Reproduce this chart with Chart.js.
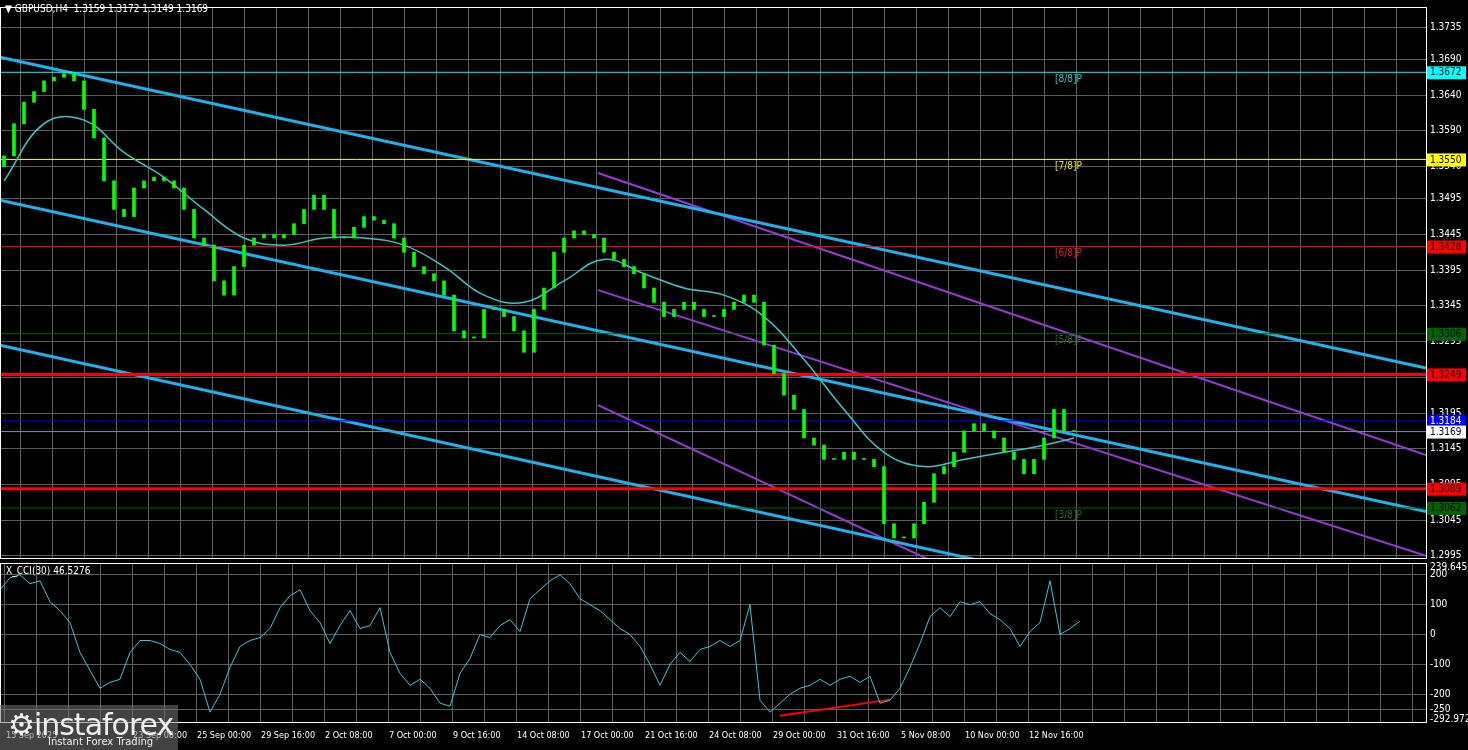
<!DOCTYPE html>
<html><head><meta charset="utf-8">
<script src="https://cdn.jsdelivr.net/npm/chart.js@4"></script>
<style>
body{margin:0;background:#000;width:1468px;height:750px;overflow:hidden;font-family:"DejaVu Sans",sans-serif}
#c1{position:absolute;left:0;top:0}
#c2{position:absolute;left:0;top:561px}
#wm{position:absolute;left:0;top:705px;width:178px;height:45px;background:rgba(120,120,120,0.55);color:#ddd}
</style></head><body>
<canvas id="c1" width="1468" height="561"></canvas>
<canvas id="c2" width="1468" height="189"></canvas>
<div id="wm"><div style="position:absolute;left:8px;top:2px;font-size:30px;color:#eee;letter-spacing:-1px">⚙instaforex</div><div style="position:absolute;left:48px;top:31px;font-size:10px;color:#eee">Instant Forex Trading</div></div>
<script>
const closes=[1.3555,1.360,1.363,1.3645,1.366,1.3665,1.367,1.366,1.362,1.358,1.352,1.348,1.347,1.351,1.352,1.3525,1.352,1.351,1.348,1.344,1.343,1.338,1.336,1.340,1.343,1.344,1.3445,1.344,1.3445,1.346,1.348,1.350,1.348,1.344,1.344,1.3455,1.347,1.3465,1.346,1.344,1.342,1.340,1.339,1.338,1.336,1.331,1.330,1.330,1.334,1.334,1.333,1.331,1.328,1.334,1.337,1.342,1.344,1.345,1.3445,1.344,1.342,1.341,1.340,1.339,1.337,1.335,1.333,1.334,1.335,1.334,1.333,1.333,1.334,1.335,1.336,1.335,1.329,1.325,1.322,1.320,1.316,1.315,1.313,1.313,1.314,1.313,1.313,1.312,1.304,1.302,1.302,1.304,1.307,1.311,1.312,1.314,1.317,1.318,1.317,1.316,1.314,1.313,1.311,1.313,1.316,1.320,1.317,1.3169];
const maIdx=[0,4,8,12,16,20,24,28,32,36,40,44,48,52,56,60,64,68,72,76,80,84,88,92,96,100,104,107];
const maVals=[1.352,1.360,1.3605,1.356,1.3525,1.348,1.344,1.343,1.344,1.344,1.343,1.340,1.336,1.335,1.338,1.341,1.339,1.337,1.336,1.333,1.327,1.320,1.314,1.312,1.313,1.314,1.315,1.316];
const cci=[150,190,200,170,180,110,80,40,-60,-120,-180,-160,-150,-60,-20,-20,-30,-50,-60,-100,-150,-260,-200,-110,-40,-20,-10,20,90,130,150,80,40,-30,30,80,20,30,90,-60,-130,-170,-150,-180,-230,-240,-130,-80,0,-10,30,50,10,120,150,180,200,170,120,100,80,50,20,0,-40,-100,-170,-100,-60,-90,-50,-40,-20,-40,-20,100,-220,-260,-230,-200,-180,-170,-150,-170,-150,-140,-160,-140,-230,-220,-180,-110,-30,60,90,60,110,100,110,70,50,20,-40,10,40,180,0,20,45];
const priceTicks=[1.3735,1.3690,1.3640,1.3590,1.3540,1.3495,1.3445,1.3395,1.3345,1.3295,1.3245,1.3195,1.3145,1.3095,1.3045,1.2995];
const cciTicks=[200,100,0,-100,-200,-250];
const dateLabels=["23 Sep 08:00","25 Sep 00:00","29 Sep 16:00","2 Oct 08:00","7 Oct 00:00","9 Oct 16:00","14 Oct 08:00","17 Oct 00:00","21 Oct 16:00","24 Oct 08:00","29 Oct 00:00","31 Oct 16:00","5 Nov 08:00","10 Nov 00:00","12 Nov 16:00"];
const levels=[{v:1.3672,c:'#00ffff',t:'#000',w:1},{v:1.3550,c:'#ffff00',t:'#000',w:1},{v:1.3428,c:'#ff0000',t:'#000',w:1},{v:1.3306,c:'#006400',t:'#000',w:1},{v:1.3249,c:'#ff0000',t:'#000',w:3},{v:1.3184,c:'#0000ff',t:'#fff',w:1},{v:1.3169,c:'#ffffff',t:'#000',w:1,lc:'#8a8a8a'},{v:1.3089,c:'#ff0000',t:'#000',w:3},{v:1.3062,c:'#006400',t:'#000',w:1}];
const murray=[{t:'[8/8]P',v:1.3672,c:'#40c0c0'},{t:'[7/8]P',v:1.3550,c:'#e0e020'},{t:'[6/8]P',v:1.3428,c:'#e02020'},{t:'[5/8]P',v:1.3306,c:'#207020'},{t:'[3/8]P',v:1.3062,c:'#207020'}];
const chanLines=[[[0,1.3693],[1426,1.3258],'#19b4ef',3],[[0,1.3493],[1426,1.3057],'#19b4ef',3],[[0,1.3290],[975,1.2990],'#19b4ef',3],
 [[598,1.3531],[1426,1.3136],'#9a36d8',2],[[598,1.3367],[1426,1.2995],'#9a36d8',2],[[598,1.3206],[930,1.2989],'#9a36d8',2]];
const XW=1426, gridX=[];for(let x=1412;x>=0;x-=32)gridX.push(x);
const gridOpt={color:'#5c5c5c',lineWidth:1,borderDash:[3,3],drawTicks:false};
const font='"DejaVu Sans Condensed","DejaVu Sans"';
const yFit=a=>{a.width=42;a.paddingTop=0;a.paddingBottom=0};
const xFit=a=>{a.height=0;a.paddingLeft=0;a.paddingRight=0};
const ds=[];
ds.push({type:'bar',data:closes.map((c,i)=>({x:i*10+4,y:[i?closes[i-1]:1.3540,c]})),backgroundColor:'#00ff00',borderColor:'#00ff00',barThickness:3,minBarLength:1});
ds.push({type:'line',data:maIdx.map((k,j)=>({x:k*10+4,y:maVals[j]})),borderColor:'#30c8c8',borderWidth:1.5,pointRadius:0,tension:0.4});
levels.forEach(l=>ds.push({type:'line',data:[{x:0,y:l.v},{x:XW,y:l.v}],borderColor:l.lc||l.c,borderWidth:l.w,pointRadius:0}));
chanLines.forEach(l=>ds.push({type:'line',data:[{x:l[0][0],y:l[0][1]},{x:l[1][0],y:l[1][1]}],borderColor:l[2],borderWidth:l[3],pointRadius:0}));
const mainPlug={id:'m',afterDraw(ch){const c=ch.ctx,y=ch.scales.y,a=ch.chartArea;c.save();
 c.strokeStyle='#fff';c.lineWidth=1;c.strokeRect(a.left+0.5,a.top-0.5,a.right-a.left,a.bottom-a.top+1);
 c.font='10px '+font;c.textBaseline='middle';
 murray.forEach(m=>{c.fillStyle=m.c;c.fillText(m.t,1055,y.getPixelForValue(m.v)+7)});
 levels.forEach(l=>{const p=y.getPixelForValue(l.v);c.fillStyle=l.c;c.fillRect(1427,p-6,39,13);c.fillStyle=l.t;c.fillText(l.v.toFixed(4),1430,p+0.5)});
 c.fillStyle='#fff';c.fillText('▼ GBPUSD,H4  1.3159 1.3172 1.3149 1.3169',5,9);c.restore();}};
new Chart(document.getElementById('c1'),{data:{datasets:ds},options:{responsive:false,animation:false,layout:{padding:{top:8,bottom:3,left:0}},
 plugins:{legend:{display:false},tooltip:{enabled:false}},
 scales:{x:{type:'linear',min:0,max:XW,offset:false,grid:gridOpt,border:{display:false},ticks:{display:false},afterFit:xFit,afterBuildTicks:a=>{a.ticks=gridX.map(v=>({value:v}))}},
 y:{position:'right',min:1.2992,max:1.3762,grid:gridOpt,border:{display:false},afterFit:yFit,afterBuildTicks:a=>{a.ticks=priceTicks.map(v=>({value:v}))},
 ticks:{color:'#fff',font:{size:10,family:font},padding:4,callback:v=>v.toFixed(4)}}}},plugins:[mainPlug]});
const cciPlug={id:'c',afterDraw(ch){const c=ch.ctx,y=ch.scales.y,a=ch.chartArea;c.save();
 c.strokeStyle='#fff';c.lineWidth=1;c.strokeRect(a.left+0.5,a.top+0.5,a.right-a.left,a.bottom-a.top);
 c.font='10px '+font;c.textBaseline='middle';c.fillStyle='#fff';
 c.fillText('239.6457',1430,a.top+4);c.fillText('-292.972',1430,a.bottom-3);c.fillText('X_CCI(30) 46.5276',6,a.top+8);
 c.textBaseline='top';c.font='9px '+font;dateLabels.forEach((t,k)=>{const x=1028-64*(dateLabels.length-1-k);c.fillText(t,x+1,a.bottom+9)});
 c.fillText('15 Sep 2025',6,a.bottom+9);c.restore();}};
new Chart(document.getElementById('c2'),{data:{datasets:[
 {type:'line',data:cci.map((v,i)=>({x:i*10,y:v})),borderColor:'#30c8e0',borderWidth:1,pointRadius:0},
 {type:'line',data:[{x:780,y:-272},{x:890,y:-218}],borderColor:'#ff0000',borderWidth:2,pointRadius:0}]},
 options:{responsive:false,animation:false,layout:{padding:{top:2,bottom:28,left:0}},plugins:{legend:{display:false},tooltip:{enabled:false}},
 scales:{x:{type:'linear',min:0,max:XW,grid:gridOpt,border:{display:false},ticks:{display:false},afterFit:xFit,afterBuildTicks:a=>{a.ticks=gridX.map(v=>({value:v}))}},
 y:{position:'right',min:-292.972,max:239.6457,grid:gridOpt,border:{display:false},afterFit:yFit,afterBuildTicks:a=>{a.ticks=cciTicks.map(v=>({value:v}))},
 ticks:{color:'#fff',font:{size:10,family:font},padding:4,callback:v=>String(v)}}}},plugins:[cciPlug]});
</script></body></html>
